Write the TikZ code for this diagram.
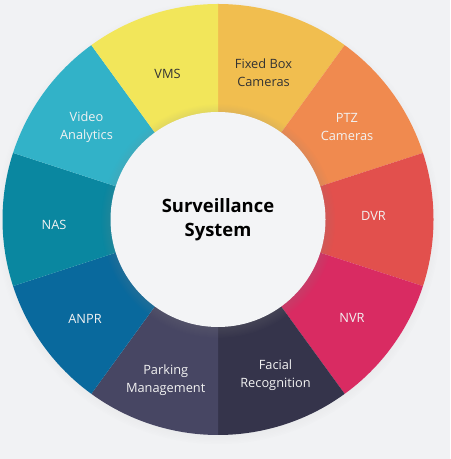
\documentclass[tikz,border=0pt]{standalone}
\usepackage{fontspec}
\setmainfont{Open Sans}
\usetikzlibrary{shadows}
\definecolor{bgcol}{HTML}{F1F2F4}
\definecolor{hubcol}{HTML}{F3F4F6}
\definecolor{vmscol}{HTML}{F2E65A}
\definecolor{boxcol}{HTML}{F1BE4F}
\definecolor{ptzcol}{HTML}{F08A4F}
\definecolor{dvrcol}{HTML}{E2504D}
\definecolor{nvrcol}{HTML}{D92B62}
\definecolor{facecol}{HTML}{35344B}
\definecolor{parkcol}{HTML}{474663}
\definecolor{anprcol}{HTML}{09699D}
\definecolor{nascol}{HTML}{0A87A0}
\definecolor{vidcol}{HTML}{32B2C8}
\tikzset{
    every node/.style={inner sep=0mm, align=center},
    seglabel/.style={text=white!95!black, font=\fontsize{9.6}{13.5}\selectfont},
    darklabel/.style={seglabel, text=black!80}
}

\begin{document}
\begin{tikzpicture}[x=0.75pt, y=0.75pt]
    \useasboundingbox (0, 0) rectangle (450, 459);
    \fill[bgcol] (0, 0) rectangle (450, 459);
    \coordinate (c) at (218, 239.5);

    \node (ring) [circle, minimum size=323.25pt, fill=bgcol,
        circular drop shadow={shadow xshift=0pt, shadow yshift=-2pt, shadow scale=1.03, opacity=0.2}] at (c) {};

    \fill[boxcol] (c) -- ++(90:215.5) arc[start angle=90, end angle=54, radius=215.5] -- cycle;
    \fill[ptzcol] (c) -- ++(54:215.5) arc[start angle=54, end angle=18, radius=215.5] -- cycle;
    \fill[dvrcol] (c) -- ++(18:215.5) arc[start angle=18, end angle=-18, radius=215.5] -- cycle;
    \fill[nvrcol] (c) -- ++(-18:215.5) arc[start angle=-18, end angle=-54, radius=215.5] -- cycle;
    \fill[facecol] (c) -- ++(-54:215.5) arc[start angle=-54, end angle=-90, radius=215.5] -- cycle;
    \fill[parkcol] (c) -- ++(-90:215.5) arc[start angle=-90, end angle=-126, radius=215.5] -- cycle;
    \fill[anprcol] (c) -- ++(-126:215.5) arc[start angle=-126, end angle=-162, radius=215.5] -- cycle;
    \fill[nascol] (c) -- ++(-162:215.5) arc[start angle=-162, end angle=-198, radius=215.5] -- cycle;
    \fill[vidcol] (c) -- ++(162:215.5) arc[start angle=162, end angle=126, radius=215.5] -- cycle;
    \fill[vmscol] (c) -- ++(126:215.5) arc[start angle=126, end angle=90, radius=215.5] -- cycle;

    \node (hub) [circle, minimum size=161.25pt, fill=hubcol,
        circular drop shadow={shadow xshift=0pt, shadow yshift=-1pt, shadow scale=1.09, opacity=0.3},
        font=\fontsize{13.8}{18}\selectfont\bfseries] at (c) {Surveillance\\System};

    \node (vms) [darklabel] at (167.5, 385) {VMS};
    \node (box) [darklabel] at (263.5, 386.5) {Fixed Box\\Cameras};
    \node (ptz) [seglabel] at (347, 332) {PTZ\\Cameras};
    \node (dvr) [seglabel] at (373.5, 243.5) {DVR};
    \node (nvr) [seglabel] at (352, 141.5) {NVR};
    \node (face) [seglabel] at (275.5, 83.5) {Facial\\Recognition};
    \node (park) [seglabel] at (165.7, 79) {Parking\\Management};
    \node (anpr) [seglabel] at (85, 140.5) {ANPR};
    \node (nas) [seglabel] at (54, 234.5) {NAS};
    \node (vid) [seglabel] at (86.5, 332) {Video\\Analytics};
\end{tikzpicture}
\end{document}
